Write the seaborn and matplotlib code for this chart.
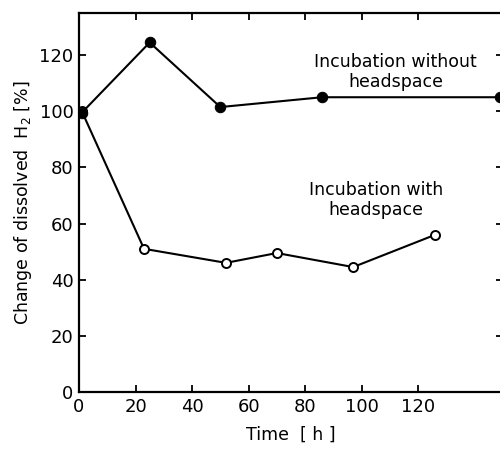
import matplotlib
matplotlib.use("Agg")
import matplotlib.pyplot as plt
import seaborn as sns
import pandas as pd

# incubation without headspace (filled circles)
t_without = [1, 25, 50, 86, 149]
h2_without = [99.5, 124.5, 101.5, 105, 105]

# incubation with headspace (open circles)
t_with = [1, 23, 52, 70, 97, 126]
h2_with = [100, 51, 46, 49.5, 44.5, 56]

x_ticks = [0, 20, 40, 60, 80, 100, 120]
y_ticks = [0, 20, 40, 60, 80, 100, 120]

sns.set_style("ticks", {"text.color": "black", "axes.labelcolor": "black",
                        "xtick.color": "black", "ytick.color": "black",
                        "axes.edgecolor": "black"})
plt.rcParams["font.family"] = ["DejaVu Sans"]

df_without = pd.DataFrame({"time": t_without, "h2": h2_without})
df_with = pd.DataFrame({"time": t_with, "h2": h2_with})

fig = plt.figure(figsize=(5.0, 4.49), dpi=100)
ax = fig.add_axes([0.158, 0.127, 0.848, 0.844])

sns.lineplot(data=df_with, x="time", y="h2", ax=ax, color="black", lw=1.5,
             marker="o", markersize=6.5, markerfacecolor="white",
             markeredgecolor="black", markeredgewidth=1.4, zorder=3)
sns.lineplot(data=df_without, x="time", y="h2", ax=ax, color="black", lw=1.5,
             marker="o", markersize=7.5, markerfacecolor="black",
             markeredgecolor="black", zorder=4)

ax.set_xlim(0, 150)
ax.set_ylim(0, 135)
ax.set_xticks(x_ticks)
ax.set_yticks(y_ticks)
ax.tick_params(direction="in", length=5, width=1.3, labelsize=13,
               top=True, right=True, pad=4)
for s in ax.spines.values():
    s.set_linewidth(1.6)

ax.set_xlabel("Time  [ h ]", fontsize=12.5, labelpad=7)
ax.set_ylabel("Change of dissolved  H$_2$ [%]", fontsize=12.5, labelpad=4)

ax.text(112, 114, "Incubation without\nheadspace", ha="center", va="center",
        fontsize=12.5, linespacing=1.15)
ax.text(105, 68.5, "Incubation with\nheadspace", ha="center", va="center",
        fontsize=12.5, linespacing=1.15)

fig.savefig("out.png", dpi=100)
